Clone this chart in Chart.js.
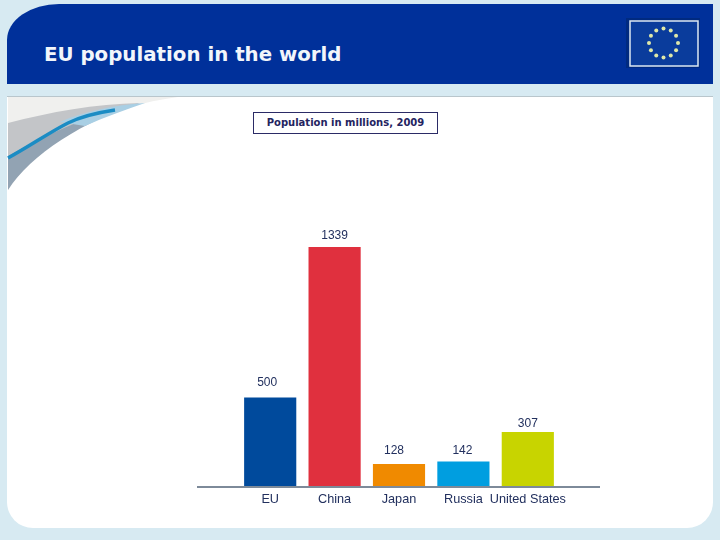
<!DOCTYPE html>
<html>
<head>
<meta charset="utf-8">
<script src="https://cdn.jsdelivr.net/npm/chart.js@4"></script>
<style>
  html, body { margin: 0; padding: 0; }
  body { width: 720px; height: 540px; overflow: hidden; position: relative; background: #d7eaf2; }
  #panel { position: absolute; left: 7px; top: 96px; width: 706px; height: 432px; background: #fff;
           border-top: 1px solid #b9c6cc; box-sizing: border-box; border-radius: 0 0 26px 26px; }
  #header { position: absolute; left: 7px; top: 4px; width: 706px; height: 80px; background: #00309a;
            border-top-left-radius: 52px 36px; }
  #title { position: absolute; left: 44px; top: 43px; color: #f2f6fb; white-space: nowrap;
           font: bold 19.8px "DejaVu Sans", sans-serif; }
  #unit { position: absolute; left: 253px; top: 112px; width: 185px; height: 22px; box-sizing: border-box;
          border: 1px solid #2b2b66; background: #fff; color: #24245f; text-align: center;
          font: bold 10px/20px "DejaVu Sans", sans-serif; }
  #art { position: absolute; left: 0; top: 0; }
  #chart { position: absolute; left: 0; top: 0; }
</style>
</head>
<body>
<div id="panel"></div>
<div id="header"></div>
<svg id="art" width="720" height="540">
  <path d="M8 97 H178 C110 106 45 135 8 190 Z" fill="#f0f0ee"/>
  <path d="M8 123 C50 112 95 104 140 103 C95 112 50 133 8 160 Z" fill="#c3c5c8"/>
  <path d="M8 190 C30 155 85 120 140 103 C95 112 50 133 8 156 Z" fill="#92a3b3"/>
  <path d="M60 122 C85 111 115 105 145 103 C125 110 105 117 85 126 Z" fill="#a9cfe4"/>
  <path d="M8 158 C30 146 50 132 68 123 C80 117 95 113 115 110" fill="none" stroke="#1b8cc4" stroke-width="3.5"/>
  <rect x="626" y="18" width="74" height="50" fill="#002a80"/>
  <rect x="630" y="21" width="68" height="45" fill="#0a3c9c" stroke="#dbe8f2" stroke-width="1.5"/>
  <g id="stars" fill="#dfe8a8"></g>
</svg>
<div id="title">EU population in the world</div>
<div id="unit">Population in millions, 2009</div>
<canvas id="chart" width="720" height="540"></canvas>
<script>
const countries = ['EU', 'China', 'Japan', 'Russia', 'United States'];
const population = [500, 1339, 128, 142, 307];
const barColors = ['#004a9c', '#e0303e', '#f08a00', '#009ee0', '#c8d400'];
const labelNudgeX = [-3, 0, -5, -1, 0];
const labelNudgeY = [-3, 1, -1, 1, 4];

const textColor = '#22305e';

// twelve flag stars
const stars = document.getElementById('stars');
for (let i = 0; i < 12; i++) {
    const a = i * Math.PI / 6;
    const c = document.createElementNS('http://www.w3.org/2000/svg', 'circle');
    c.setAttribute('cx', 663.5 + 14.5 * Math.sin(a));
    c.setAttribute('cy', 43 - 14.5 * Math.cos(a));
    c.setAttribute('r', 2);
    stars.appendChild(c);
}

// long baseline and the value labels above the bars
const barExtras = {
    id: 'barExtras',
    afterDatasetsDraw(chart) {
        const ctx = chart.ctx;
        const y0 = chart.scales.y.getPixelForValue(0);
        ctx.save();
        ctx.strokeStyle = '#7d8a99';
        ctx.lineWidth = 2;
        ctx.beginPath();
        ctx.moveTo(197, y0);
        ctx.lineTo(600, y0);
        ctx.stroke();
        ctx.fillStyle = textColor;
        ctx.font = '12px "Liberation Sans", sans-serif';
        ctx.textAlign = 'center';
        ctx.textBaseline = 'middle';
        chart.getDatasetMeta(0).data.forEach((bar, i) => {
            ctx.fillText(population[i], bar.x + labelNudgeX[i], bar.y - 12 + labelNudgeY[i]);
        });
        ctx.restore();
    },
};

new Chart(document.getElementById('chart').getContext('2d'), {
    type: 'bar',
    data: {
        labels: countries,
        datasets: [{
            data: population,
            backgroundColor: barColors,
            borderWidth: 0,
            categoryPercentage: 1,
            barPercentage: 0.81,
        }],
    },
    options: {
        responsive: false,
        animation: false,
        devicePixelRatio: 1,
        layout: { padding: { left: 238, right: 160, top: 247, bottom: 0 } },
        plugins: { legend: { display: false }, tooltip: { enabled: false } },
        scales: {
            x: {
                grid: { display: false, drawTicks: false },
                border: { display: false },
                afterFit: (scale) => { scale.height = 53; },
                ticks: {
                    autoSkip: false,
                    maxRotation: 0,
                    padding: 5,
                    color: textColor,
                    font: { family: '"Liberation Sans", sans-serif', size: 12.7 },
                },
            },
            y: { display: false, min: 0, max: 1339 },
        },
    },
    plugins: [barExtras],
});
</script>
</body>
</html>
